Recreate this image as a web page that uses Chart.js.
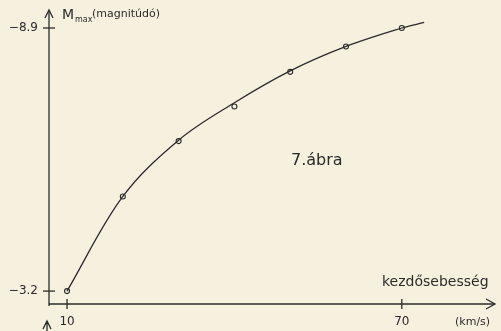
<!DOCTYPE html>
<html>
<head>
<meta charset="utf-8">
<script src="https://cdn.jsdelivr.net/npm/chart.js@4"></script>
<style>
  html, body { margin: 0; padding: 0; background: #f6f0df; }
  #wrap { width: 501px; height: 331px; position: relative; }
</style>
</head>
<body>
<div id="wrap"><canvas id="chart"></canvas></div>
<script>
// measured points: initial speed (km/s) vs max magnitude
const speeds = [10, 20, 30, 40, 50, 60, 70]
const magnitudes = [-3.2, -5.25, -6.45, -7.2, -7.95, -8.5, -8.9]
// hand-drawn fitted curve (runs a bit past the last point)
const curveX = [10, 20, 30, 40, 50, 60, 70, 74]
const curveY = [-3.2, -5.25, -6.47, -7.28, -7.97, -8.5, -8.9, -9.02]
const xTicks = [10, 70]
const yTicks = [-3.2, -8.9]
const xTickLabels = ['10', '70']
const yTickLabels = ['\u22123.2', '\u22128.9']

const INK = '#2b2b2b'
const FONT = '"DejaVu Sans", sans-serif'

const axesPlugin = {
    id: 'handAxes',
    afterDatasetsDraw(chart) {
        const { ctx, chartArea: a, scales: { x, y } } = chart
        ctx.save()
        ctx.strokeStyle = INK
        ctx.fillStyle = INK
        ctx.lineWidth = 1.3

        // axes
        const x0 = a.left, y0 = a.bottom
        ctx.beginPath()
        ctx.moveTo(x0, y0); ctx.lineTo(a.right, y0)
        ctx.moveTo(x0, y0 + 2); ctx.lineTo(x0, a.top)
        ctx.stroke()
        // arrow heads
        ctx.beginPath()
        ctx.moveTo(a.right - 9, y0 - 5); ctx.lineTo(a.right, y0); ctx.lineTo(a.right - 9, y0 + 5)
        ctx.moveTo(x0 - 4, a.top + 8); ctx.lineTo(x0, a.top); ctx.lineTo(x0 + 4, a.top + 8)
        // stray arrow tip from the next figure below
        ctx.moveTo(43, 329); ctx.lineTo(47, 321); ctx.lineTo(51, 329)
        ctx.moveTo(47, 321); ctx.lineTo(47, 331)
        ctx.stroke()

        // tick marks and labels
        ctx.font = '12px ' + FONT
        ctx.textBaseline = 'middle'
        xTicks.forEach((v, i) => {
            const px = x.getPixelForValue(v)
            ctx.beginPath(); ctx.moveTo(px, y0 - 5); ctx.lineTo(px, y0 + 5); ctx.stroke()
            ctx.textAlign = 'center'
            ctx.fillText(xTickLabels[i], px, y0 + 18)
        })
        yTicks.forEach((v, i) => {
            const py = y.getPixelForValue(v)
            ctx.beginPath(); ctx.moveTo(x0 - 6, py); ctx.lineTo(x0 + 6, py); ctx.stroke()
            ctx.textAlign = 'right'
            ctx.fillText(yTickLabels[i], x0 - 11, py)
        })

        // axis titles
        ctx.textAlign = 'left'
        ctx.font = '14px ' + FONT
        ctx.fillText('M', 62, 15)
        ctx.font = '8px ' + FONT
        ctx.fillText('max', 75, 20)
        ctx.font = '11px ' + FONT
        ctx.fillText('(magnitúdó)', 92, 14)

        ctx.font = '14px ' + FONT
        ctx.fillText('kezdősebesség', 382, 282)
        ctx.font = '11px ' + FONT
        ctx.fillText('(km/s)', 455, 322)

        ctx.font = '16px ' + FONT
        ctx.fillText('7.ábra', 291, 161)
        ctx.restore()
    }
}

new Chart(document.getElementById('chart'), {
    type: 'scatter',
    data: {
        datasets: [
            {
                data: curveX.map((v, i) => ({ x: v, y: curveY[i] })),
                showLine: true,
                borderColor: INK,
                borderWidth: 1.3,
                pointRadius: 0,
                tension: 0.35,
                fill: false,
            },
            {
                data: speeds.map((v, i) => ({ x: v, y: magnitudes[i] })),
                showLine: false,
                pointRadius: 2.5,
                pointBorderWidth: 1.1,
                pointBorderColor: INK,
                pointBackgroundColor: '#f6f0df',
            }
        ]
    },
    options: {
        responsive: true,
        maintainAspectRatio: false,
        animation: false,
        layout: { padding: { left: 49, right: 6, top: 10, bottom: 27 } },
        plugins: { legend: { display: false }, tooltip: { enabled: false } },
        scales: {
            x: { type: 'linear', display: false, min: 6.77, max: 86.7 },
            y: { type: 'linear', display: false, min: -9.29, max: -2.92, reverse: true }
        }
    },
    plugins: [axesPlugin]
})
</script>
</body>
</html>
